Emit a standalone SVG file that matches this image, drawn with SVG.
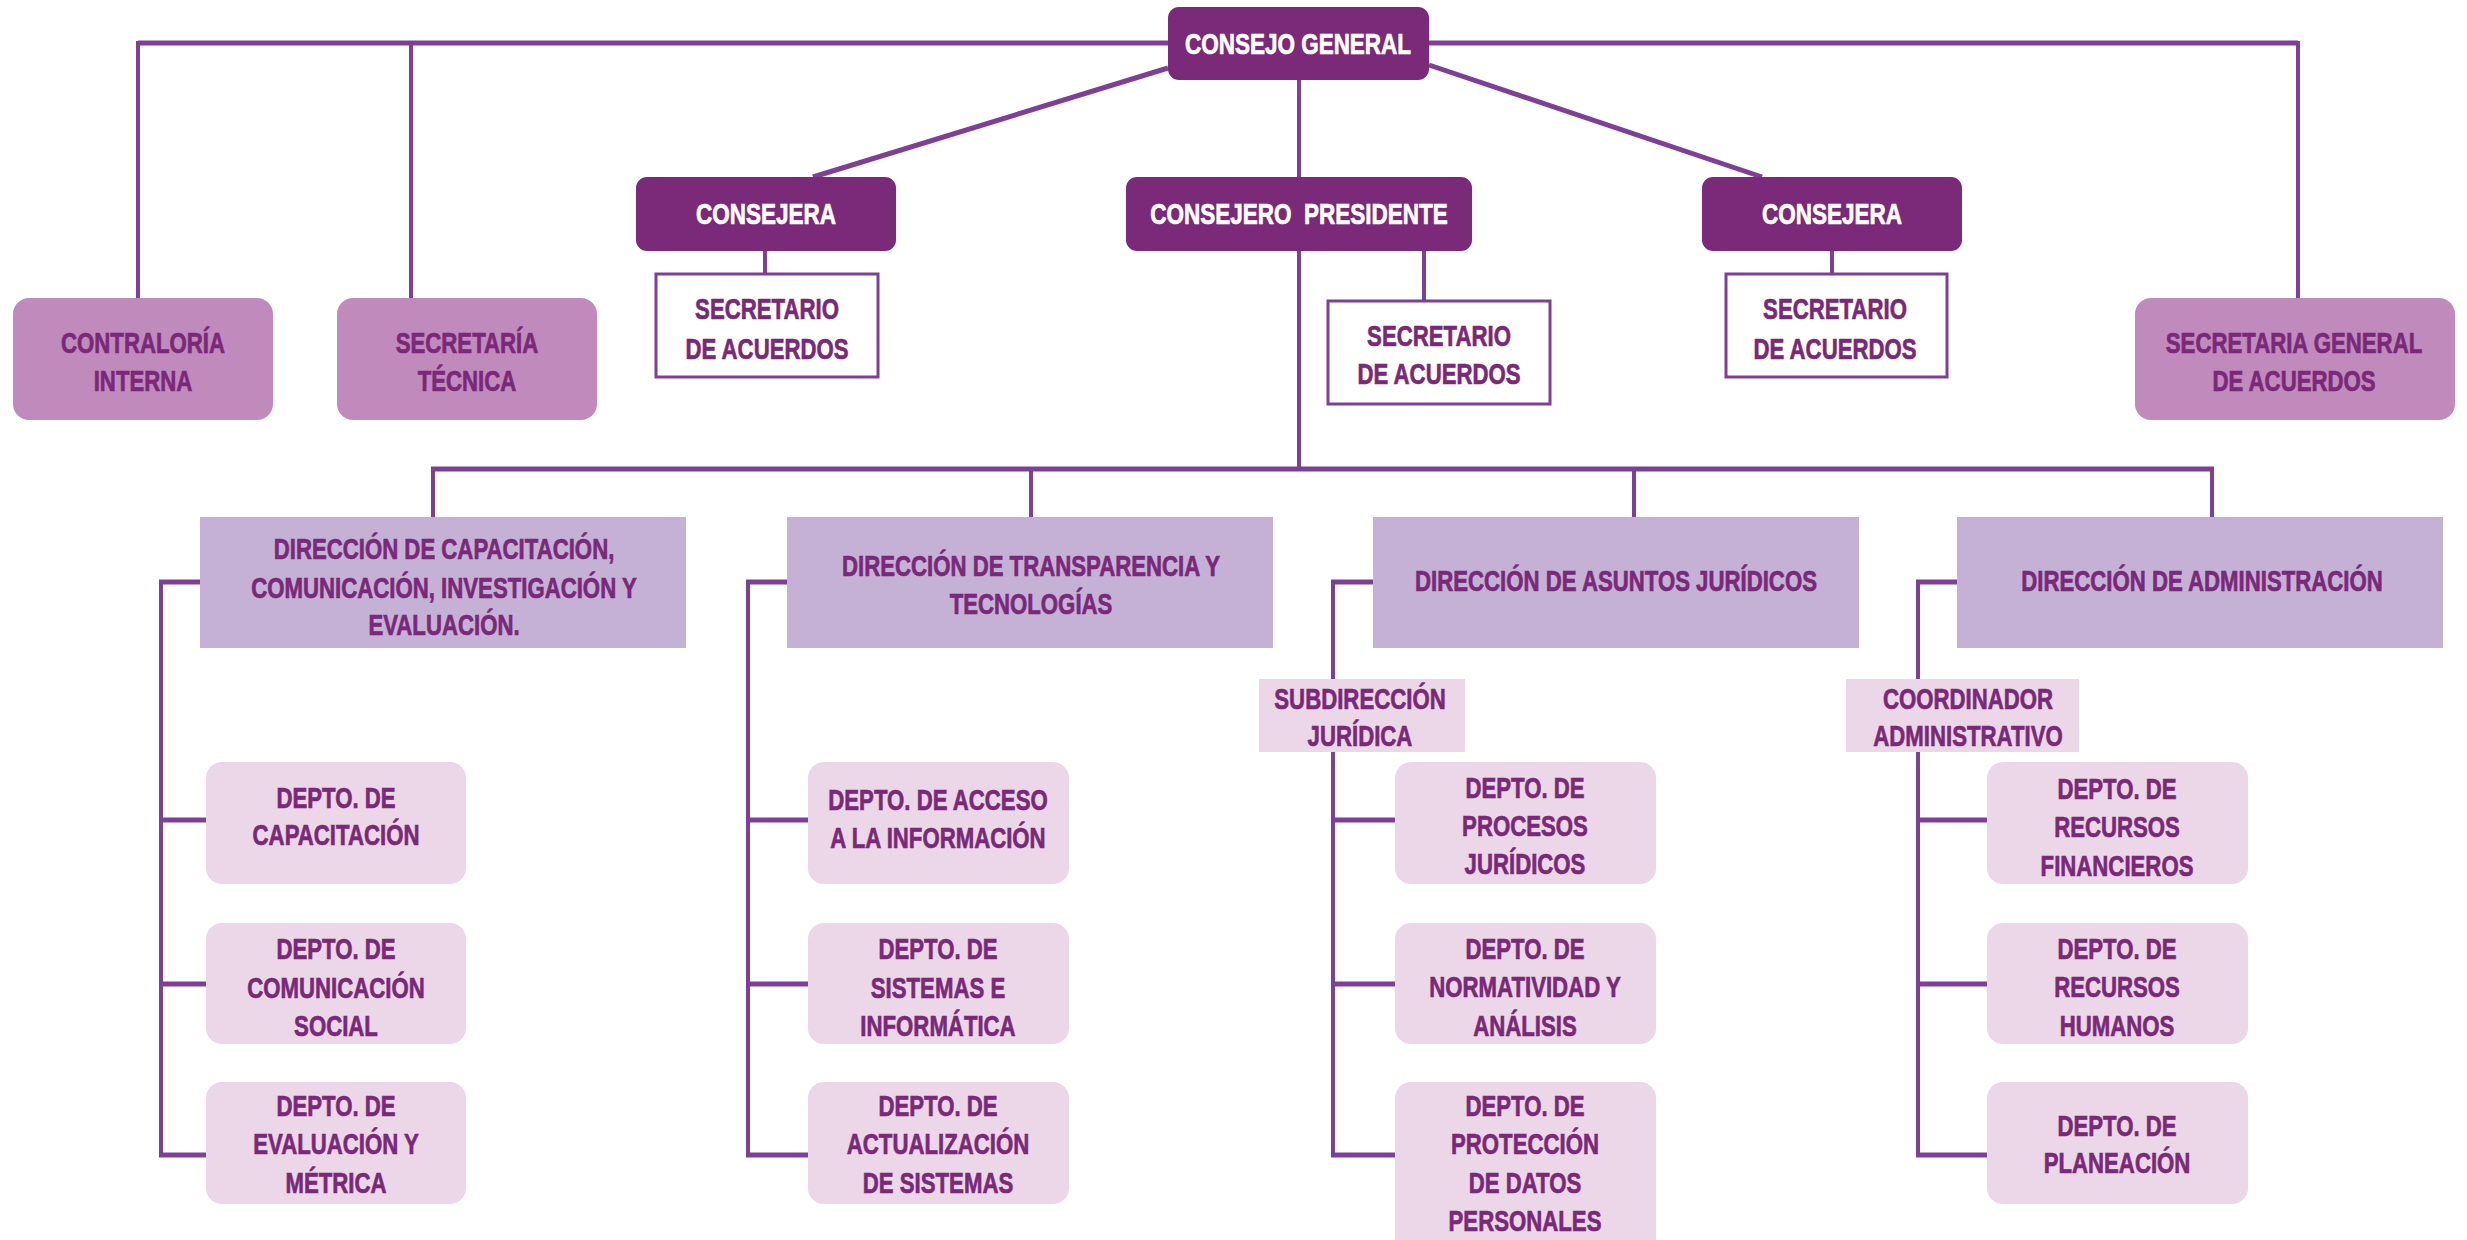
<svg xmlns="http://www.w3.org/2000/svg" width="2467" height="1240" viewBox="0 0 2467 1240">
<style>
.ln{stroke:#7E3F97;fill:none;stroke-width:4}
.th{stroke-width:5}
.dark{fill:#7B2979}
.med{fill:#C08ABC}
.dir{fill:#C5B1D6}
.lt{fill:#EBD7E7}
.sec{fill:#fff;stroke:#7E3F97;stroke-width:3}
text{font-family:"Liberation Sans",Arial,sans-serif;font-weight:700;font-size:30px;text-anchor:middle;fill:#7A2878;stroke:#7A2878;stroke-width:0.7px}
text.w{fill:#fff;stroke:#fff}
</style>
<rect width="2467" height="1240" fill="#fff"/>
<g id="connectors">
<path class="ln th" d="M138 43H2298"/>
<path class="ln" d="M138 41V298M411 43V298M2298 41V298"/>
<path class="ln th" d="M1168 68L813 177M1429 65L1762 177"/>
<path class="ln" d="M1299 80V177M1299 251V469M765 251V274M1424 251V301M1832 251V274"/>
<path class="ln th" d="M431 469H2214"/>
<path class="ln" d="M433 467V517M1031 469V517M1634 469V517M2212 467V517"/>
<path class="ln" d="M161 580V1157M748 580V1157M1333 580V1157M1918 580V1157"/>
<path class="ln th" d="M159 582H200M159 820H206M159 984H206M159 1155H206"/>
<path class="ln th" d="M746 582H787M746 820H808M746 984H808M746 1155H808"/>
<path class="ln th" d="M1331 582H1373M1331 820H1395M1331 984H1395M1331 1155H1395"/>
<path class="ln th" d="M1916 582H1957M1916 820H1987M1916 984H1987M1916 1155H1987"/>
</g>
<g id="consejo-general"><rect class="dark" x="1168" y="7" width="261" height="73" rx="11"/><text class="w" transform="translate(1298 0) scale(0.75 1)" x="0" y="54">CONSEJO GENERAL</text></g>
<g id="consejera-1"><rect class="dark" x="636" y="177" width="260" height="74" rx="11"/><text class="w" transform="translate(766 0) scale(0.75 1)" x="0" y="224">CONSEJERA</text></g>
<g id="consejero-presidente"><rect class="dark" x="1126" y="177" width="346" height="74" rx="11"/><text class="w" transform="translate(1299 0) scale(0.75 1)" x="0" y="224">CONSEJERO&#160; PRESIDENTE</text></g>
<g id="consejera-2"><rect class="dark" x="1702" y="177" width="260" height="74" rx="11"/><text class="w" transform="translate(1832 0) scale(0.75 1)" x="0" y="224">CONSEJERA</text></g>
<g id="secretario-1"><rect class="sec" x="656" y="274" width="222" height="103"/><g transform="translate(767 0) scale(0.74 1)"><text x="0" y="319">SECRETARIO</text><text x="0" y="359">DE ACUERDOS</text></g></g>
<g id="secretario-2"><rect class="sec" x="1328" y="301" width="222" height="103"/><g transform="translate(1439 0) scale(0.74 1)"><text x="0" y="346">SECRETARIO</text><text x="0" y="384">DE ACUERDOS</text></g></g>
<g id="secretario-3"><rect class="sec" x="1726" y="274" width="221" height="103"/><g transform="translate(1835 0) scale(0.74 1)"><text x="0" y="319">SECRETARIO</text><text x="0" y="359">DE ACUERDOS</text></g></g>
<g id="contraloria"><rect class="med" x="13" y="298" width="260" height="122" rx="16"/><g transform="translate(143 0) scale(0.74 1)"><text x="0" y="353">CONTRALORÍA</text><text x="0" y="391">INTERNA</text></g></g>
<g id="secretaria-tecnica"><rect class="med" x="337" y="298" width="260" height="122" rx="16"/><g transform="translate(467 0) scale(0.74 1)"><text x="0" y="353">SECRETARÍA</text><text x="0" y="391">TÉCNICA</text></g></g>
<g id="secretaria-general"><rect class="med" x="2135" y="298" width="320" height="122" rx="16"/><g transform="translate(2294 0) scale(0.74 1)"><text x="0" y="353">SECRETARIA GENERAL</text><text x="0" y="391">DE ACUERDOS</text></g></g>
<g id="dir-capacitacion"><rect class="dir" x="200" y="517" width="486" height="131"/><g transform="translate(444 0) scale(0.74 1)"><text x="0" y="559">DIRECCIÓN DE CAPACITACIÓN,</text><text x="0" y="598">COMUNICACIÓN, INVESTIGACIÓN Y</text><text x="0" y="635">EVALUACIÓN.</text></g></g>
<g id="dir-transparencia"><rect class="dir" x="787" y="517" width="486" height="131"/><g transform="translate(1031 0) scale(0.74 1)"><text x="0" y="576">DIRECCIÓN DE TRANSPARENCIA Y</text><text x="0" y="614">TECNOLOGÍAS</text></g></g>
<g id="dir-juridicos"><rect class="dir" x="1373" y="517" width="486" height="131"/><g transform="translate(1616 0) scale(0.74 1)"><text x="0" y="591">DIRECCIÓN DE ASUNTOS JURÍDICOS</text></g></g>
<g id="dir-administracion"><rect class="dir" x="1957" y="517" width="486" height="131"/><g transform="translate(2202 0) scale(0.74 1)"><text x="0" y="591">DIRECCIÓN DE ADMINISTRACIÓN</text></g></g>
<g id="subdireccion-juridica"><rect class="lt" x="1259" y="679" width="206" height="73"/><g transform="translate(1360 0) scale(0.74 1)"><text x="0" y="709">SUBDIRECCIÓN</text><text x="0" y="746">JURÍDICA</text></g></g>
<g id="coordinador-administrativo"><rect class="lt" x="1846" y="679" width="233" height="73"/><g transform="translate(1968 0) scale(0.74 1)"><text x="0" y="709">COORDINADOR</text><text x="0" y="746">ADMINISTRATIVO</text></g></g>
<g id="depto-capacitacion"><rect class="lt" x="206" y="762" width="260" height="122" rx="16"/><g transform="translate(336 0) scale(0.74 1)"><text x="0" y="808">DEPTO. DE</text><text x="0" y="845">CAPACITACIÓN</text></g></g>
<g id="depto-comunicacion"><rect class="lt" x="206" y="923" width="260" height="121" rx="16"/><g transform="translate(336 0) scale(0.74 1)"><text x="0" y="959">DEPTO. DE</text><text x="0" y="998">COMUNICACIÓN</text><text x="0" y="1036">SOCIAL</text></g></g>
<g id="depto-evaluacion"><rect class="lt" x="206" y="1082" width="260" height="122" rx="16"/><g transform="translate(336 0) scale(0.74 1)"><text x="0" y="1116">DEPTO. DE</text><text x="0" y="1154">EVALUACIÓN Y</text><text x="0" y="1193">MÉTRICA</text></g></g>
<g id="depto-acceso"><rect class="lt" x="808" y="762" width="261" height="122" rx="16"/><g transform="translate(938 0) scale(0.74 1)"><text x="0" y="810">DEPTO. DE ACCESO</text><text x="0" y="848">A LA INFORMACIÓN</text></g></g>
<g id="depto-sistemas"><rect class="lt" x="808" y="923" width="261" height="121" rx="16"/><g transform="translate(938 0) scale(0.74 1)"><text x="0" y="959">DEPTO. DE</text><text x="0" y="998">SISTEMAS E</text><text x="0" y="1036">INFORMÁTICA</text></g></g>
<g id="depto-actualizacion"><rect class="lt" x="808" y="1082" width="261" height="122" rx="16"/><g transform="translate(938 0) scale(0.74 1)"><text x="0" y="1116">DEPTO. DE</text><text x="0" y="1154">ACTUALIZACIÓN</text><text x="0" y="1193">DE SISTEMAS</text></g></g>
<g id="depto-procesos"><rect class="lt" x="1395" y="762" width="261" height="122" rx="16"/><g transform="translate(1525 0) scale(0.74 1)"><text x="0" y="798">DEPTO. DE</text><text x="0" y="836">PROCESOS</text><text x="0" y="874">JURÍDICOS</text></g></g>
<g id="depto-normatividad"><rect class="lt" x="1395" y="923" width="261" height="121" rx="16"/><g transform="translate(1525 0) scale(0.74 1)"><text x="0" y="959">DEPTO. DE</text><text x="0" y="997">NORMATIVIDAD Y</text><text x="0" y="1036">ANÁLISIS</text></g></g>
<g id="depto-proteccion"><rect class="lt" x="1395" y="1082" width="261" height="175" rx="16"/><g transform="translate(1525 0) scale(0.74 1)"><text x="0" y="1116">DEPTO. DE</text><text x="0" y="1154">PROTECCIÓN</text><text x="0" y="1193">DE DATOS</text><text x="0" y="1231">PERSONALES</text></g></g>
<g id="depto-financieros"><rect class="lt" x="1987" y="762" width="261" height="122" rx="16"/><g transform="translate(2117 0) scale(0.74 1)"><text x="0" y="799">DEPTO. DE</text><text x="0" y="837">RECURSOS</text><text x="0" y="876">FINANCIEROS</text></g></g>
<g id="depto-humanos"><rect class="lt" x="1987" y="923" width="261" height="121" rx="16"/><g transform="translate(2117 0) scale(0.74 1)"><text x="0" y="959">DEPTO. DE</text><text x="0" y="997">RECURSOS</text><text x="0" y="1036">HUMANOS</text></g></g>
<g id="depto-planeacion"><rect class="lt" x="1987" y="1082" width="261" height="122" rx="16"/><g transform="translate(2117 0) scale(0.74 1)"><text x="0" y="1136">DEPTO. DE</text><text x="0" y="1173">PLANEACIÓN</text></g></g>
</svg>
